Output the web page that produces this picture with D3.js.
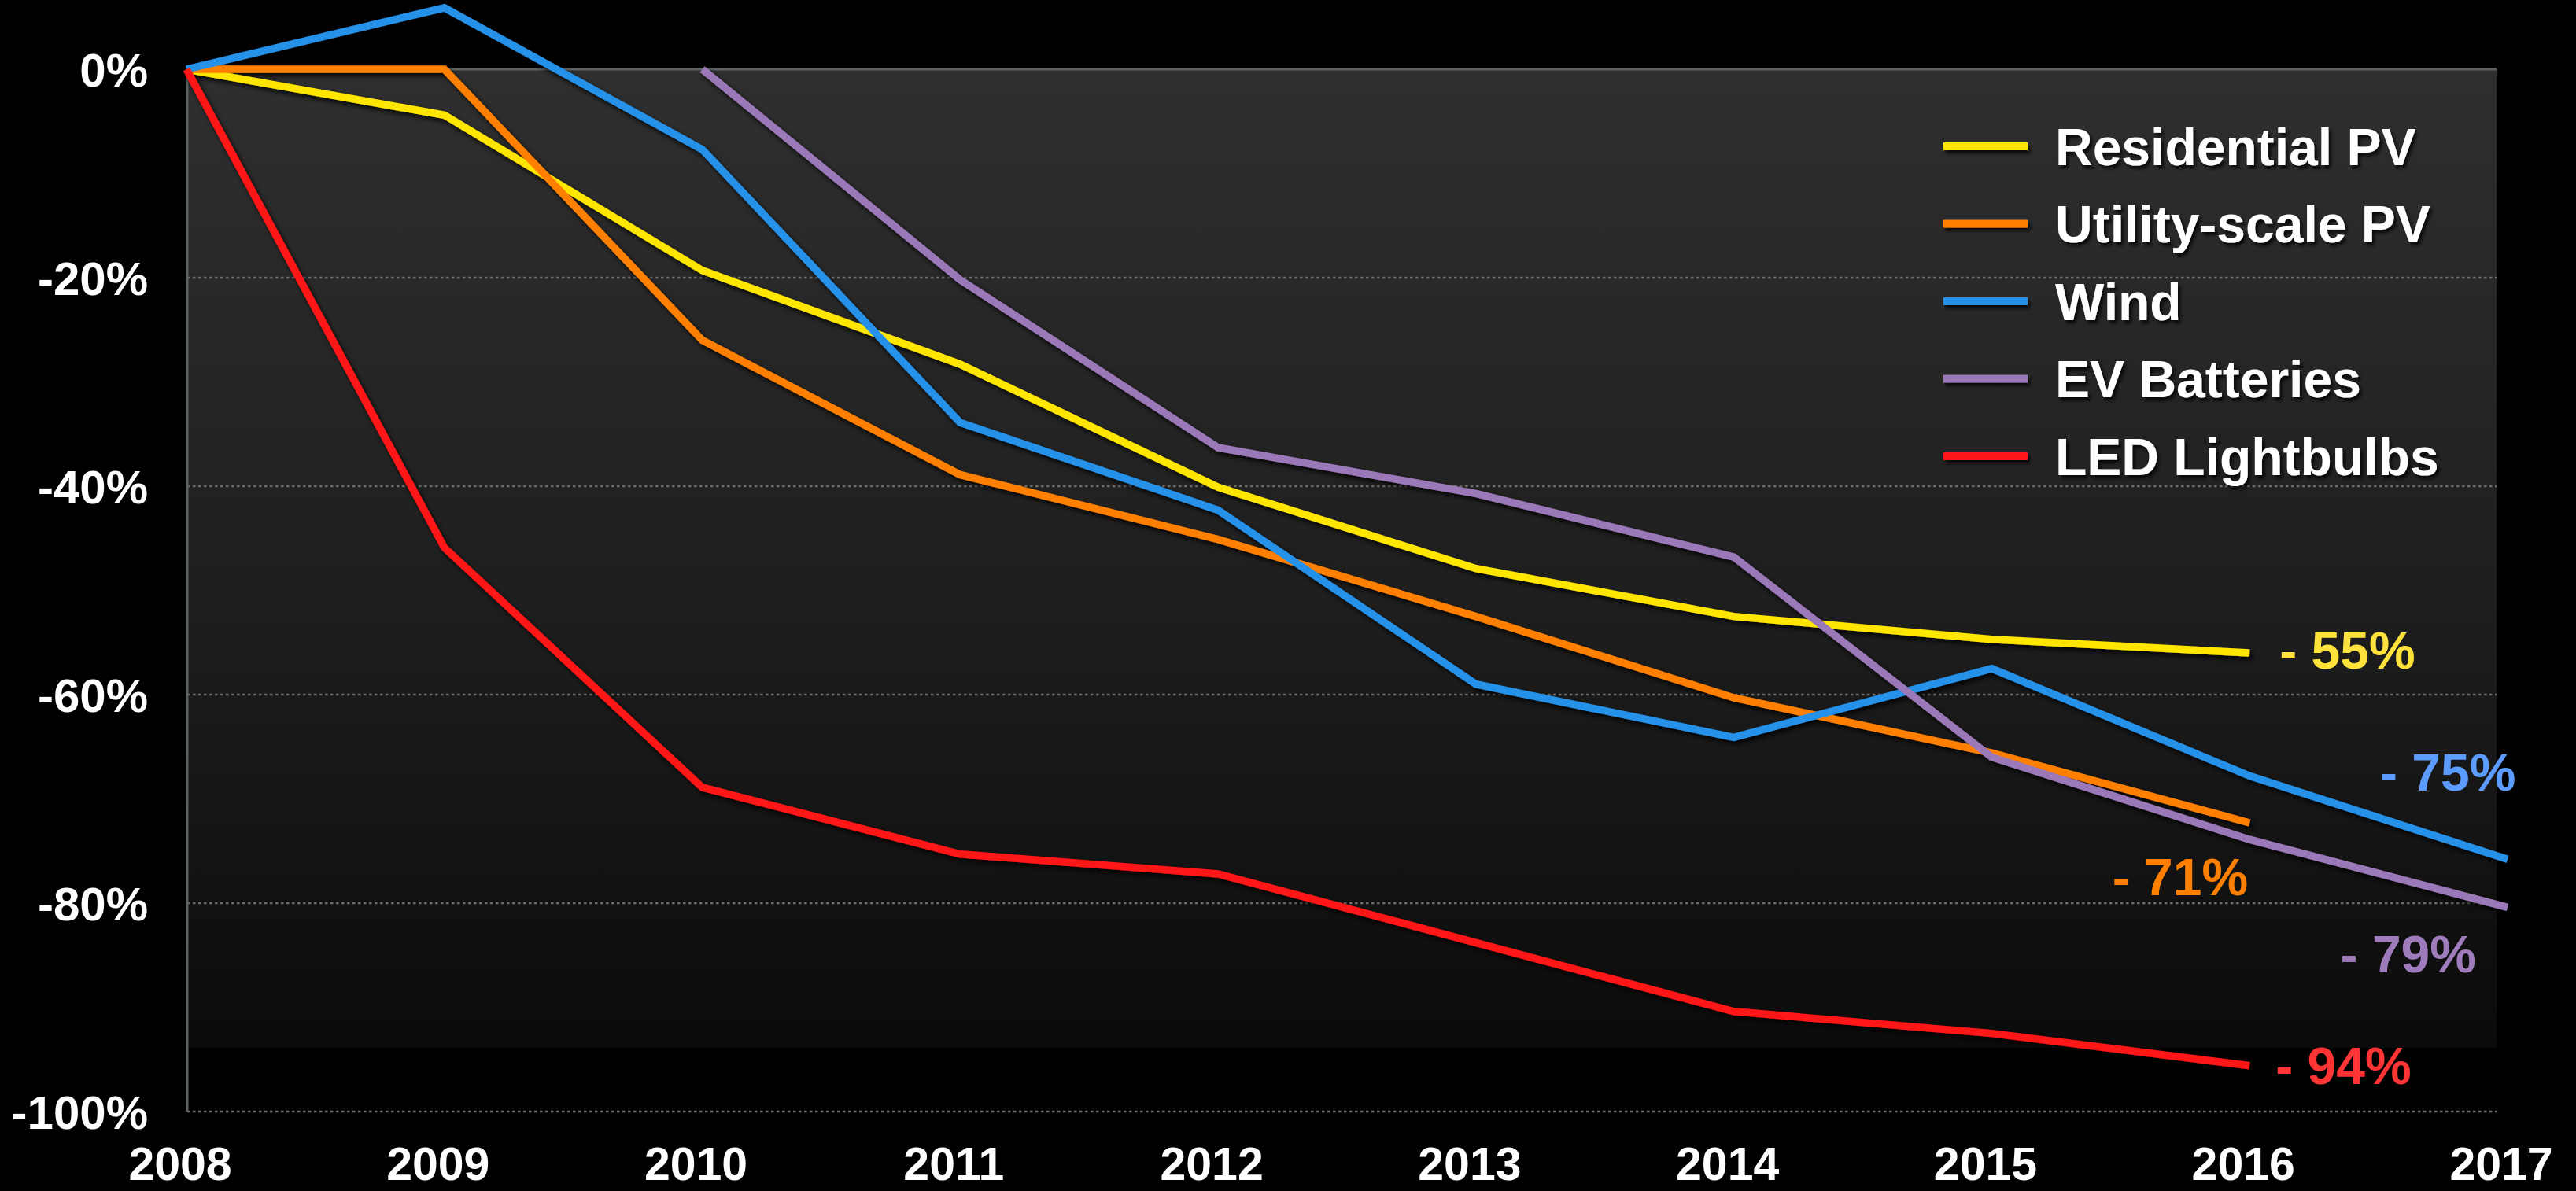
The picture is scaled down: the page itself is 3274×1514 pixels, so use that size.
<!DOCTYPE html>
<html>
<head>
<meta charset="utf-8">
<script src="https://cdn.jsdelivr.net/npm/d3@7"></script>
<style>
  html, body { margin: 0; padding: 0; background: #000; }
  svg { display: block; }
  text { font-family: "Liberation Sans", Arial, sans-serif; font-weight: bold; }
</style>
</head>
<body>
<svg id="chart" width="3274" height="1514"></svg>
<script>
// ---------- DATA ----------
const years = [2008, 2009, 2010, 2011, 2012, 2013, 2014, 2015, 2016, 2017];
const seriesNames = ["Residential PV", "Utility-scale PV", "Wind", "EV Batteries", "LED Lightbulbs"];
const residentialPV = [0, -4.4, -19.3, -28.3, -40.1, -47.9, -52.5, -54.7, -56.0, null];
const utilityPV     = [0, 0, -26.0, -38.9, -45.1, -52.5, -60.3, -65.6, -72.3, null];
const wind          = [0, 5.9, -7.7, -33.9, -42.3, -59.0, -64.1, -57.5, -67.8, -75.8];
const evBatteries   = [null, null, 0, -20.2, -36.3, -40.7, -46.8, -66.0, -73.9, -80.4];
const ledBulbs      = [0, -45.9, -68.9, -75.3, -77.2, -83.8, -90.4, -92.5, -95.6, null];
const endLabels     = ["- 55%", "- 71%", "- 75%", "- 79%", "- 94%"];
const yTicks = [0, -20, -40, -60, -80, -100];
const yTickLabels = ["0%", "-20%", "-40%", "-60%", "-80%", "-100%"];

// ---------- STYLE ----------
const lineColors  = ["#ffe600", "#ff8000", "#2791e8", "#9b78b8", "#ff1616"];
const labelColors = ["#ffe33c", "#ff8000", "#5c9cff", "#9e7bbb", "#ff3535"];
// label offsets relative to each series' last point
const labelOffsets = [
  {dx: 38, dy: -4, anchor: "start"},
  {dx: -2, dy: 68, anchor: "end"},
  {dx: -162, dy: -111, anchor: "start"},
  {dx: -40, dy: 59, anchor: "end"},
  {dx: 33, dy: 0, anchor: "start"}
];

const allSeries = [residentialPV, utilityPV, wind, evBatteries, ledBulbs];

const svg = d3.select("#chart");
const W = 3274, H = 1514;
svg.append("rect").attr("width", W).attr("height", H).attr("fill", "#000");

const x = d3.scaleLinear().domain([2008, 2017]).range([237, 3187]);
const y = d3.scaleLinear().domain([0, -100]).range([88, 1413]);
const plotLeft = 238, plotRight = 3173;

const defs = svg.append("defs");
const grad = defs.append("linearGradient").attr("id", "bg").attr("x1", 0).attr("y1", 0).attr("x2", 0).attr("y2", 1);
grad.append("stop").attr("offset", "0%").attr("stop-color", "#2f2f2f");
grad.append("stop").attr("offset", "55%").attr("stop-color", "#1e1e1e");
grad.append("stop").attr("offset", "100%").attr("stop-color", "#0b0b0b");

function makeShadow(id, blur, op) {
  const f = defs.append("filter").attr("id", id)
    .attr("filterUnits", "userSpaceOnUse")
    .attr("x", -W).attr("y", -H).attr("width", 3 * W).attr("height", 3 * H);
  f.append("feDropShadow").attr("dx", 3).attr("dy", 4).attr("stdDeviation", blur)
    .attr("flood-color", "#000").attr("flood-opacity", op);
}
makeShadow("shadow", 3, 0.85);
makeShadow("tshadow", 2, 0.8);

// plot background
svg.append("rect")
  .attr("x", plotLeft).attr("y", y(0))
  .attr("width", plotRight - plotLeft).attr("height", 1332 - y(0))
  .attr("fill", "url(#bg)");

// gridlines
svg.append("g").selectAll("line").data(yTicks.filter(d => d !== 0)).join("line")
  .attr("x1", plotLeft).attr("x2", plotRight)
  .attr("y1", d => y(d)).attr("y2", d => y(d))
  .attr("stroke", "#6c6c6c").attr("stroke-width", 2.5)
  .attr("stroke-dasharray", "3.5,3.5");

// top solid line at 0%
svg.append("line")
  .attr("x1", plotLeft).attr("x2", plotRight)
  .attr("y1", y(0)).attr("y2", y(0))
  .attr("stroke", "#5d6363").attr("stroke-width", 3);

// y axis line
svg.append("line")
  .attr("x1", plotLeft).attr("x2", plotLeft)
  .attr("y1", y(0)).attr("y2", y(-100))
  .attr("stroke", "#5d6363").attr("stroke-width", 3);

// y axis labels
const yAxis = d3.axisLeft(y).tickValues(yTicks).tickSize(0).tickPadding(0)
  .tickFormat((d, i) => yTickLabels[i]);
const gy = svg.append("g").attr("transform", "translate(188,0)").call(yAxis);
gy.select(".domain").remove();
gy.selectAll("text").attr("fill", "#fff").attr("font-size", 60).attr("dy", "0.36em")
  .style("font-family", '"Liberation Sans", Arial, sans-serif').style("font-weight", "bold");

// x axis labels
const xAxis = d3.axisBottom(x).tickValues(years).tickSize(0).tickPadding(0).tickFormat(d3.format("d"));
const gx = svg.append("g").attr("transform", "translate(-8,0)").call(xAxis);
gx.select(".domain").remove();
gx.selectAll(".tick").attr("transform", d => `translate(${x(d)},1500)`);
gx.selectAll("text").attr("fill", "#fff").attr("font-size", 59).attr("y", 0).attr("dy", 0)
  .style("font-family", '"Liberation Sans", Arial, sans-serif').style("font-weight", "bold");

// lines
const line = d3.line()
  .defined(d => d.v !== null)
  .x(d => x(d.year)).y(d => y(d.v));

const linesG = svg.append("g").attr("filter", "url(#shadow)");
allSeries.forEach((s, i) => {
  const pts = years.map((yr, j) => ({year: yr, v: s[j]}));
  linesG.append("path")
    .datum(pts)
    .attr("d", line)
    .attr("fill", "none")
    .attr("stroke", lineColors[i])
    .attr("stroke-width", 9.5)
    .attr("stroke-linejoin", "miter")
    .attr("stroke-linecap", "butt");
});

// end labels
allSeries.forEach((s, i) => {
  let last = s.length - 1;
  while (s[last] === null) last--;
  const o = labelOffsets[i];
  svg.append("text")
    .attr("x", x(years[last]) + o.dx)
    .attr("y", y(s[last]) + o.dy)
    .attr("dy", "0.36em")
    .attr("text-anchor", o.anchor)
    .attr("fill", labelColors[i])
    .attr("font-size", 66)
    .text(endLabels[i]);
});

// legend
const legend = svg.append("g").attr("transform", "translate(2470,186)");
seriesNames.forEach((name, i) => {
  const g = legend.append("g").attr("transform", `translate(0,${i * 98.5})`);
  g.append("rect").attr("x", 0).attr("y", -5).attr("width", 107).attr("height", 10)
    .attr("fill", lineColors[i]).attr("filter", "url(#tshadow)");
  g.append("text").attr("x", 142).attr("y", 0).attr("dy", "0.36em")
    .attr("fill", "#fff").attr("font-size", 66).attr("filter", "url(#tshadow)")
    .text(name);
});
</script>
</body>
</html>
